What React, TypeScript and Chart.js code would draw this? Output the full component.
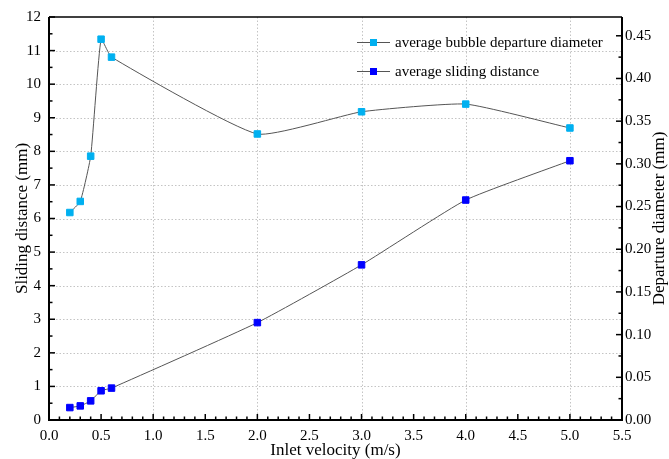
import React, { useEffect, useRef } from "react";
import { Chart, registerables } from "chart.js";

Chart.register(...registerables);

// ---- data ----
const inletVelocity = [0.2, 0.3, 0.4, 0.5, 0.6, 2.0, 3.0, 4.0, 5.0];
const departureDiameter = [0.243, 0.256, 0.309, 0.446, 0.425, 0.335, 0.361, 0.37, 0.342];
const slidingDistance = [0.37, 0.42, 0.57, 0.87, 0.95, 2.9, 4.62, 6.55, 7.72];

const seriesLabels = ["average bubble departure diameter", "average sliding distance"];
const seriesColors = ["#00b0f0", "#0000ff"];

const xTitle = "Inlet velocity (m/s)";
const yLeftTitle = "Sliding distance (mm)";
const yRightTitle = "Departure diameter (mm)";

const xMin = 0, xMax = 5.5, xStep = 0.5, xMinorStep = 0.1;
const yMin = 0, yMax = 12, yStep = 1, yMinorStep = 0.5;
const y1Min = 0, y1Max = 0.472, y1Step = 0.05, y1MinorStep = 0.025;

const FONT = "'Liberation Serif', 'Times New Roman', serif";

const framePlugin = {
  id: "originFrame",
  beforeDatasetsDraw(chart: any) {
    const { ctx, chartArea: a, scales } = chart;
    ctx.save();
    ctx.strokeStyle = "#c4c4c4";
    ctx.lineWidth = 1;
    ctx.setLineDash([1.5, 2]);
    for (let v = 1; v < xMax; v += 1) {
      const x = Math.round(scales.x.getPixelForValue(v)) + 0.5;
      ctx.beginPath();
      ctx.moveTo(x, a.top);
      ctx.lineTo(x, a.bottom);
      ctx.stroke();
    }
    for (let v = 1; v < yMax; v += 1) {
      const y = Math.round(scales.y.getPixelForValue(v)) + 0.5;
      ctx.beginPath();
      ctx.moveTo(a.left, y);
      ctx.lineTo(a.right, y);
      ctx.stroke();
    }
    ctx.restore();
  },
  afterDatasetsDraw(chart: any) {
    const { ctx, chartArea: a, scales } = chart;
    ctx.save();
    ctx.strokeStyle = "#000";
    ctx.setLineDash([]);
    // frame
    ctx.lineWidth = 2;
    ctx.beginPath();
    ctx.moveTo(a.left, a.top);
    ctx.lineTo(a.left, a.bottom);
    ctx.lineTo(a.right, a.bottom);
    ctx.lineTo(a.right, a.top);
    ctx.stroke();
    ctx.lineWidth = 1.5;
    ctx.beginPath();
    ctx.moveTo(a.left, a.top);
    ctx.lineTo(a.right, a.top);
    ctx.stroke();
    // ticks
    ctx.lineWidth = 1.5;
    const nx = Math.round((xMax - xMin) / xMinorStep);
    const xr = Math.round(xStep / xMinorStep);
    for (let i = 0; i <= nx; i++) {
      const v = xMin + i * xMinorStep;
      const x = scales.x.getPixelForValue(v);
      const len = i % xr === 0 ? 6 : 3.5;
      ctx.beginPath();
      ctx.moveTo(x, a.bottom);
      ctx.lineTo(x, a.bottom - len);
      ctx.stroke();
    }
    const ny = Math.round((yMax - yMin) / yMinorStep);
    const yr = Math.round(yStep / yMinorStep);
    for (let i = 0; i <= ny; i++) {
      const v = yMin + i * yMinorStep;
      const y = scales.y.getPixelForValue(v);
      const len = i % yr === 0 ? 6 : 3.5;
      ctx.beginPath();
      ctx.moveTo(a.left, y);
      ctx.lineTo(a.left + len, y);
      ctx.stroke();
    }
    const ny1 = Math.floor((y1Max - y1Min) / y1MinorStep + 1e-9);
    const y1r = Math.round(y1Step / y1MinorStep);
    for (let i = 0; i <= ny1; i++) {
      const v = y1Min + i * y1MinorStep;
      const y = scales.y1.getPixelForValue(v);
      const len = i % y1r === 0 ? 6 : 3.5;
      ctx.beginPath();
      ctx.moveTo(a.right, y);
      ctx.lineTo(a.right - len, y);
      ctx.stroke();
    }
    ctx.restore();
  },
  afterDraw(chart: any) {
    const { ctx, chartArea: a } = chart;
    ctx.save();
    // legend
    ctx.font = `15px ${FONT}`;
    ctx.textBaseline = "middle";
    ctx.textAlign = "left";
    chart.data.datasets.forEach((ds: any, i: number) => {
      const y = a.top + 25 + i * 29;
      const x0 = a.left + 308;
      ctx.strokeStyle = "#555";
      ctx.lineWidth = 1;
      ctx.beginPath();
      ctx.moveTo(x0, y + 0.5);
      ctx.lineTo(x0 + 33, y + 0.5);
      ctx.stroke();
      ctx.fillStyle = ds.pointBackgroundColor;
      ctx.fillRect(x0 + 13, y - 3, 7, 7);
      ctx.fillStyle = "#000";
      ctx.fillText(ds.label, x0 + 38, y + 1);
    });
    // titles
    ctx.font = `17px ${FONT}`;
    ctx.fillStyle = "#000";
    ctx.textAlign = "center";
    ctx.textBaseline = "middle";
    ctx.fillText(xTitle, (a.left + a.right) / 2, 451);
    const cy = (a.top + a.bottom) / 2;
    ctx.save();
    ctx.translate(23, cy);
    ctx.rotate(-Math.PI / 2);
    ctx.fillText(yLeftTitle, 0, 0);
    ctx.restore();
    ctx.save();
    ctx.translate(660, cy);
    ctx.rotate(-Math.PI / 2);
    ctx.fillText(yRightTitle, 0, 0);
    ctx.restore();
    ctx.restore();
  },
};

export default function App() {
  const ref = useRef<HTMLCanvasElement | null>(null);
  useEffect(() => {
    if (!ref.current) return;
    const tickFont = { family: FONT, size: 15 };
    const chart = new Chart(ref.current, {
      type: "line",
      data: {
        datasets: [
          {
            label: seriesLabels[0],
            data: inletVelocity.map((x, i) => ({ x, y: departureDiameter[i] })),
            yAxisID: "y1",
            borderColor: "#555",
            borderWidth: 1,
            pointStyle: "rect",
            pointRadius: 4.6,
            pointBackgroundColor: seriesColors[0],
            pointBorderColor: seriesColors[0],
            pointBorderWidth: 1,
            tension: 0.15,
          },
          {
            label: seriesLabels[1],
            data: inletVelocity.map((x, i) => ({ x, y: slidingDistance[i] })),
            yAxisID: "y",
            borderColor: "#555",
            borderWidth: 1,
            pointStyle: "rect",
            pointRadius: 4.6,
            pointBackgroundColor: seriesColors[1],
            pointBorderColor: seriesColors[1],
            pointBorderWidth: 1,
            tension: 0.15,
          },
        ],
      },
      options: {
        animation: false,
        responsive: false,
        devicePixelRatio: 1,
        layout: { padding: { top: 17, left: 0, right: 0, bottom: 0 } },
        plugins: { legend: { display: false }, tooltip: { enabled: false } },
        scales: {
          x: {
            type: "linear",
            min: xMin,
            max: xMax,
            grid: { display: false, drawTicks: false },
            border: { display: false },
            ticks: {
              stepSize: xStep,
              autoSkip: false,
              maxRotation: 0,
              padding: 7,
              color: "#000",
              font: tickFont,
              callback: (v: any) => Number(v).toFixed(1),
            },
            afterFit: (s: any) => { s.height = 39; },
          },
          y: {
            type: "linear",
            position: "left",
            min: yMin,
            max: yMax,
            grid: { display: false, drawTicks: false },
            border: { display: false },
            ticks: {
              stepSize: yStep,
              padding: 8,
              color: "#000",
              font: tickFont,
              callback: (v: any) => String(v),
            },
            afterFit: (s: any) => { s.width = 49; },
          },
          y1: {
            type: "linear",
            position: "right",
            min: y1Min,
            max: y1Max,
            grid: { display: false, drawTicks: false },
            border: { display: false },
            ticks: {
              stepSize: y1Step,
              includeBounds: false,
              padding: 3,
              color: "#000",
              font: tickFont,
              callback: (v: any) => Number(v).toFixed(2),
            },
            afterFit: (s: any) => { s.width = 47; },
          },
        },
      } as any,
      plugins: [framePlugin],
    });
    return () => chart.destroy();
  }, []);
  return (
    <div style={{ position: "absolute", left: 0, top: 0, width: 669, height: 459, background: "#fff" }}>
      <canvas ref={ref} width={669} height={459} style={{ display: "block" }} />
    </div>
  );
}
